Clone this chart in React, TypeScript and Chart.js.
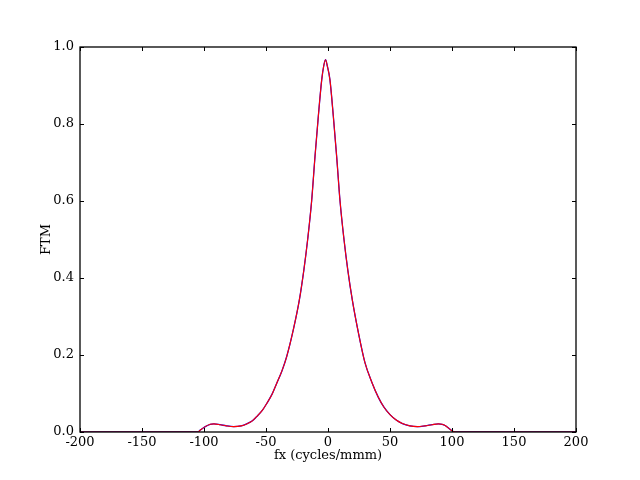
import React, { useEffect, useRef } from "react";
import { Chart, registerables } from "chart.js";

Chart.register(...registerables);

const fxValues = [
  -200, -105, -103, -99, -95, -92, -87, -82, -76, -70, -65.6, -61, -57.5, -53, -49.4, -45, -41.4, -37,
  -33.3, -28, -23.1, -19.5, -16.4, -13.2, -10.5, -7.8, -5.1, -3.5, -2, -0.5, 1.6, 4.3, 7, 9.7, 12.9, 16,
  19.6, 24.5, 29.8, 35.5, 40.6, 45, 50, 55, 60, 66, 72, 78.2, 84, 89, 92, 94.4, 98, 101, 103, 200,
];
const ftmBlue = [
  0, 0, 0.005, 0.014, 0.02, 0.021, 0.019, 0.016, 0.014, 0.016, 0.021, 0.029, 0.04, 0.056, 0.074, 0.099,
  0.126, 0.16, 0.196, 0.265, 0.343, 0.42, 0.5, 0.6, 0.715, 0.82, 0.914, 0.95, 0.967, 0.95, 0.914, 0.82,
  0.715, 0.6, 0.5, 0.42, 0.343, 0.258, 0.18, 0.128, 0.09, 0.065, 0.045, 0.031, 0.022, 0.016, 0.014,
  0.016, 0.019, 0.021, 0.02, 0.017, 0.008, 0.001, 0, 0,
];
const ftmRed = [
  0, 0, 0.005, 0.014, 0.02, 0.021, 0.019, 0.016, 0.014, 0.016, 0.021, 0.029, 0.04, 0.056, 0.074, 0.099,
  0.126, 0.16, 0.196, 0.265, 0.343, 0.42, 0.5, 0.6, 0.715, 0.82, 0.914, 0.95, 0.967, 0.95, 0.914, 0.82,
  0.715, 0.6, 0.5, 0.42, 0.343, 0.258, 0.18, 0.128, 0.09, 0.065, 0.045, 0.031, 0.022, 0.016, 0.014,
  0.016, 0.019, 0.021, 0.02, 0.017, 0.008, 0.001, 0, 0,
];
const xTicks = [-200, -150, -100, -50, 0, 50, 100, 150, 200];
const yTicks = [0, 0.2, 0.4, 0.6, 0.8, 1.0];
const xTitle = "fx (cycles/mmm)";
const yTitle = "FTM";

const FONT = "DejaVu Serif";

const framePlugin = {
  id: "frame",
  afterDraw(chart: any) {
    const { ctx, chartArea } = chart;
    const { left, right, top, bottom } = chartArea;
    const xs = chart.scales.x;
    const ys = chart.scales.y;
    ctx.save();
    ctx.strokeStyle = "#000";
    ctx.lineWidth = 1;
    const tl = 4;
    ctx.beginPath();
    xTicks.forEach((v) => {
      const px = Math.round(xs.getPixelForValue(v)) + 0.5;
      ctx.moveTo(px, bottom);
      ctx.lineTo(px, bottom - tl);
      ctx.moveTo(px, top);
      ctx.lineTo(px, top + tl);
    });
    yTicks.forEach((v) => {
      const py = Math.round(ys.getPixelForValue(v)) + 0.5;
      ctx.moveTo(left, py);
      ctx.lineTo(left + tl, py);
      ctx.moveTo(right, py);
      ctx.lineTo(right - tl, py);
    });
    ctx.stroke();
    ctx.lineWidth = 1.3;
    ctx.strokeRect(left, top, right - left, bottom - top);
    ctx.fillStyle = "#000";
    ctx.font = `13px "${FONT}"`;
    ctx.textAlign = "center";
    ctx.textBaseline = "middle";
    ctx.fillText(xTitle, (left + right) / 2, 456);
    ctx.translate(47, (top + bottom) / 2);
    ctx.rotate(-Math.PI / 2);
    ctx.fillText(yTitle, 0, 0);
    ctx.restore();
  },
};

export default function App() {
  const ref = useRef<HTMLCanvasElement>(null);
  useEffect(() => {
    const canvas = ref.current;
    if (!canvas) return;
    const chart = new Chart(canvas, {
      type: "line",
      data: {
        datasets: [
          {
            label: "red",
            data: fxValues.map((x, i) => ({ x, y: ftmRed[i] })),
            borderColor: "#ff0000",
            borderWidth: 1.1,
            pointRadius: 0,
            cubicInterpolationMode: "monotone",
            fill: false,
          },
          {
            label: "blue",
            data: fxValues.map((x, i) => ({ x, y: ftmBlue[i] })),
            borderColor: "#0000ff",
            borderWidth: 1.3,
            pointRadius: 0,
            cubicInterpolationMode: "monotone",
            fill: false,
          },
        ],
      },
      options: {
        responsive: false,
        animation: false,
        events: [],
        layout: { padding: { top: 47, right: 64, left: 0, bottom: 0 } },
        plugins: { legend: { display: false }, tooltip: { enabled: false } },
        scales: {
          x: {
            type: "linear",
            min: -200,
            max: 200,
            afterFit: (s: any) => {
              s.height = 48;
            },
            afterBuildTicks: (s: any) => {
              s.ticks = xTicks.map((v) => ({ value: v }));
            },
            grid: { display: false, drawTicks: false },
            border: { display: false },
            ticks: {
              color: "#000",
              padding: 3,
              maxRotation: 0,
              autoSkip: false,
              font: { family: FONT, size: 13 },
              callback: (v: any) => String(v),
            },
          },
          y: {
            type: "linear",
            min: 0,
            max: 1,
            afterFit: (s: any) => {
              s.width = 80;
            },
            afterBuildTicks: (s: any) => {
              s.ticks = yTicks.map((v) => ({ value: v }));
            },
            grid: { display: false, drawTicks: false },
            border: { display: false },
            ticks: {
              color: "#000",
              padding: 6,
              autoSkip: false,
              font: { family: FONT, size: 13 },
              callback: (v: any) => Number(v).toFixed(1),
            },
          },
        },
      },
      plugins: [framePlugin],
    });
    return () => chart.destroy();
  }, []);
  return (
    <div style={{ position: "fixed", left: 0, top: 0, width: 640, height: 480, background: "#fff" }}>
      <canvas ref={ref} width={640} height={480} style={{ display: "block" }} />
    </div>
  );
}
